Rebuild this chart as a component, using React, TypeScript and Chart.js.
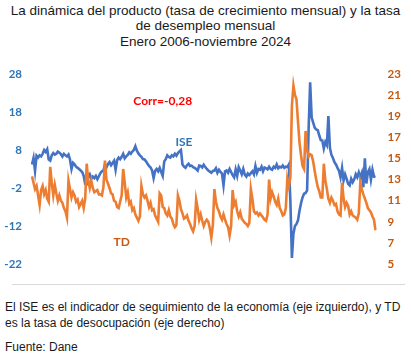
import React, { useEffect, useRef } from "react";
import { Chart, registerables } from "chart.js";

Chart.register(...registerables);

const MONTHS = ["ene", "feb", "mar", "abr", "may", "jun", "jul", "ago", "sep", "oct", "nov", "dic"];
const YEARS = [2006, 2007, 2008, 2009, 2010, 2011, 2012, 2013, 2014, 2015, 2016, 2017, 2018, 2019, 2020, 2021, 2022, 2023, 2024];

const ISE_2006_2010 = [
  4.2, 5.9, 2.5, 6.5, 6.0, 6.6, 6.3, 7.0, 8.0, 7.5, 8.2, 5.5,
  5.2, 6.6, 7.2, 6.8, 7.0, 7.6, 7.3, 6.9, 6.3, 7.0, 6.6, 6.3,
  6.8, 5.5, 3.0, 4.6, 4.2, 3.6, 3.3, 3.0, 2.6, 2.2, 1.2, -0.9,
  -1.0, 0.9, 1.6, 0.4, 1.0, 0.6, 1.2, 0.3, 1.1, 1.9, 2.4, 2.6,
  4.2, 3.4, 4.3, 4.8, 4.0, 4.6, 5.2, 2.8, 5.3, 6.0, 5.6, 6.2,
];
const ISE_2011_2015 = [
  7.0, 5.8, 6.3, 6.7, 7.4, 7.0, 7.6, 8.0, 9.0, 7.8, 7.1, 6.6,
  6.2, 5.6, 5.5, 5.0, 4.4, 3.8, 3.4, 2.6, 0.6, 2.5, 3.0, 2.4,
  3.3, 2.2, 1.2, 5.0, 5.6, 6.6, 6.2, 6.0, 6.6, 6.3, 7.0, 6.5,
  7.2, 7.6, 8.0, 4.2, 3.6, 3.3, 4.0, 4.4, 3.8, 3.9, 3.5, 3.3,
  3.0, 2.6, 3.9, 3.8, 3.4, 4.1, 3.5, 3.0, 2.6, 2.3, 2.0, 2.5,
];
const ISE_2016_2020 = [
  2.6, 3.2, 2.0, 2.8, 2.2, 1.8, -1.3, 2.4, 2.6, 2.0, 3.0, 2.2,
  1.4, 0.8, 2.9, 1.2, 3.5, 2.6, 1.6, 3.0, 1.5, 1.0, 1.8, 1.4,
  1.9, 2.4, 1.6, 3.8, 2.0, 3.0, 2.8, 3.6, 2.4, 3.4, 3.2, 2.9,
  3.6, 3.0, 2.8, 3.6, 3.3, 4.2, 3.2, 3.6, 3.4, 3.9, 3.3, 3.6,
  3.5, 4.2, -5.5, -20.4, -14.0, -12.0, -11.5, -10.5, -8.0, -6.0, -4.5, -3.5,
];
const ISE_2021_2024 = [
  -3.3, -2.6, 13.5, 25.8, 16.5, 15.2, 13.9, 13.4, 13.2, 11.8, 10.6, 10.5,
  8.4, 10.1, 9.3, 16.9, 8.6, 6.7, 5.9, 4.8, 4.2, 3.3, 2.5, 0.8,
  3.3, 0.0, 1.6, 0.4, -0.9, -1.3, 0.4, -0.5, 0.3, 1.6, 0.8, 2.1,
  0.8, 2.0, -1.8, 5.8, -0.8, 2.2, 3.0, 0.2, 2.8, 1.0, 0.9,
];

const TD_2006_2010 = [
  13.3, 12.7, 12.1, 12.4, 11.5, 10.6, 12.0, 12.4, 11.6, 12.0, 11.2, 10.9,
  14.2, 12.7, 11.5, 12.5, 11.7, 11.0, 11.5, 11.0, 10.8, 10.3, 10.0, 9.4,
  12.9, 12.1, 11.3, 11.8, 11.5, 10.9, 11.1, 10.4, 10.7, 11.0, 10.3, 11.2,
  14.5, 12.9, 12.2, 12.9, 12.2, 11.8, 11.9, 12.0, 11.6, 11.6, 11.5, 12.3,
  14.8, 13.0, 12.6, 12.2, 11.7, 11.6, 11.0, 10.9, 10.4, 10.3, 10.9, 11.5,
];
const TD_2011_2015 = [
  14.0, 12.7, 11.3, 11.8, 10.7, 10.9, 10.1, 10.3, 9.7, 9.4, 9.1, 9.5,
  12.4, 11.6, 11.3, 11.5, 11.0, 10.4, 10.8, 10.1, 10.2, 9.6, 9.3, 9.0,
  11.7, 11.5, 10.4, 10.3, 9.8, 9.6, 10.1, 9.5, 9.3, 8.8, 8.5, 8.7,
  11.5, 11.0, 10.2, 9.8, 9.3, 9.4, 9.6, 9.1, 8.8, 8.4, 8.1, 8.6,
  11.1, 10.3, 9.2, 9.7, 9.1, 8.6, 9.0, 9.2, 9.0, 8.4, 7.5, 8.7,
];
const TD_2016_2020 = [
  12.1, 10.9, 10.3, 10.0, 9.5, 9.2, 9.7, 9.2, 8.8, 8.5, 7.7, 8.6,
  12.0, 10.6, 10.9, 10.0, 9.5, 9.9, 9.3, 9.1, 8.9, 8.8, 8.6, 8.9,
  12.1, 11.2, 10.0, 9.8, 9.9, 9.6, 9.8, 9.6, 9.4, 9.2, 9.1, 9.7,
  13.0, 11.2, 11.8, 11.4, 10.9, 10.6, 11.2, 10.3, 10.0, 9.6, 9.7, 10.3,
  13.1, 12.4, 13.2, 20.0, 21.9, 21.0, 20.6, 18.5, 16.5, 15.3, 14.3, 14.0,
];
const TD_2021_2024 = [
  17.6, 15.8, 15.2, 15.4, 15.3, 14.7, 13.8, 13.0, 12.3, 11.9, 11.3, 11.3,
  14.5, 12.9, 12.1, 11.2, 10.8, 11.3, 11.0, 10.6, 10.7, 10.0, 9.7, 9.6,
  12.7, 11.2, 10.4, 10.8, 10.5, 9.7, 10.0, 9.6, 9.5, 9.4, 9.2, 9.8,
  12.7, 12.1, 11.6, 11.2, 10.8, 10.3, 10.1, 9.9, 9.5, 9.2, 8.2,
];

const ISE = [...ISE_2006_2010, ...ISE_2011_2015, ...ISE_2016_2020, ...ISE_2021_2024];
const TD = [...TD_2006_2010, ...TD_2011_2015, ...TD_2016_2020, ...TD_2021_2024];
const LABELS: string[] = [];
YEARS.forEach((y) => MONTHS.forEach((m) => LABELS.push(`${m}-${y}`)));
LABELS.length = ISE.length;

const LEFT_TICKS = [-22, -12, -2, 8, 18, 28];
const RIGHT_TICKS = [5, 7, 9, 11, 13, 15, 17, 19, 21, 23];

const TITLE = [
  "La dinámica del producto (tasa de crecimiento mensual) y la tasa",
  "de desempleo mensual",
  "Enero 2006-noviembre 2024",
];
const CAPTION = [
  "El ISE es el indicador de seguimiento de la economía (eje izquierdo), y TD",
  "es la tasa de desocupación (eje derecho)",
];
const SOURCE = "Fuente: Dane";

const BLUE = "#4472C4";
const ORANGE = "#ED7D31";
const BLUE_TXT = "#2E75B6";
const ORANGE_TXT = "#C55A11";

const annotations = [
  { text: "Corr=-0,28", color: "#FF0000", idx: 86, value: 20.9, axis: "y" },
  { text: "ISE", color: BLUE_TXT, idx: 100, value: 10.1, axis: "y" },
  { text: "TD", color: ORANGE_TXT, idx: 59, value: 7.1, axis: "y1" },
];

const labelPlugin = {
  id: "labelPlugin",
  afterDatasetsDraw(chart: any) {
    const { ctx, scales } = chart;
    ctx.save();
    ctx.font = "bold 12px Lato, 'Liberation Sans', sans-serif";
    ctx.textAlign = "center";
    ctx.textBaseline = "middle";
    annotations.forEach((a) => {
      ctx.fillStyle = a.color;
      ctx.fillText(a.text, scales.x.getPixelForValue(a.idx), scales[a.axis].getPixelForValue(a.value));
    });
    ctx.restore();
  },
};

export default function App() {
  const ref = useRef<HTMLCanvasElement>(null);
  useEffect(() => {
    document.body.style.margin = "0";
    const chart = new Chart(ref.current!, {
      type: "line",
      data: {
        labels: LABELS,
        datasets: [
          { label: "ISE", data: ISE, borderColor: BLUE, borderWidth: 2.6, pointRadius: 0, tension: 0, yAxisID: "y", order: 1 },
          { label: "TD", data: TD, borderColor: ORANGE, borderWidth: 2.6, pointRadius: 0, tension: 0, yAxisID: "y1", order: 0 },
        ],
      },
      options: {
        responsive: false,
        animation: false,
        layout: { padding: { top: 18, bottom: 10, left: 0, right: 0 } },
        plugins: { legend: { display: false }, tooltip: { enabled: false }, title: { display: false } },
        scales: {
          x: { display: false, offset: false },
          y: {
            position: "left",
            min: -22,
            max: 28,
            grid: { display: false, drawTicks: false },
            border: { display: false },
            afterBuildTicks: (s: any) => { s.ticks = LEFT_TICKS.map((v) => ({ value: v })); },
            afterFit: (s: any) => { s.width = 32; },
            ticks: { color: BLUE_TXT, padding: 10, font: { family: "Lato, 'Liberation Sans', sans-serif", size: 11.5, weight: "bold" } },
          },
          y1: {
            position: "right",
            min: 5,
            max: 23,
            grid: { display: false, drawTicks: false },
            border: { display: false },
            afterBuildTicks: (s: any) => { s.ticks = RIGHT_TICKS.map((v) => ({ value: v })); },
            afterFit: (s: any) => { s.width = 35.5; },
            ticks: { color: ORANGE_TXT, padding: 12, font: { family: "Lato, 'Liberation Sans', sans-serif", size: 11.5, weight: "bold" } },
          },
        },
      },
      plugins: [labelPlugin],
    });
    return () => chart.destroy();
  }, []);

  const textFont = "'Liberation Sans', Arial, sans-serif";
  return (
    <div style={{ position: "relative", width: 411, height: 359, background: "#fff", overflow: "hidden", fontFamily: textFont, color: "#1a1a1a" }}>
      <div style={{ position: "absolute", top: 3, left: 0, width: 411, textAlign: "center", fontSize: 13.5, lineHeight: "15.3px" }}>
        {TITLE.map((t, i) => (
          <div key={i}>{t}</div>
        ))}
      </div>
      <canvas ref={ref} width={411} height={228} style={{ position: "absolute", left: 0, top: 55 }} />
      <div style={{ position: "absolute", top: 284, left: 12, width: 393, height: 1, background: "#d9d9d9" }} />
      <div style={{ position: "absolute", top: 299, left: 5, whiteSpace: "nowrap", fontSize: 12, lineHeight: "16px" }}>
        {CAPTION.map((t, i) => (
          <div key={i}>{t}</div>
        ))}
      </div>
      <div style={{ position: "absolute", top: 339, left: 5, whiteSpace: "nowrap", fontSize: 12, lineHeight: "16px" }}>{SOURCE}</div>
    </div>
  );
}
